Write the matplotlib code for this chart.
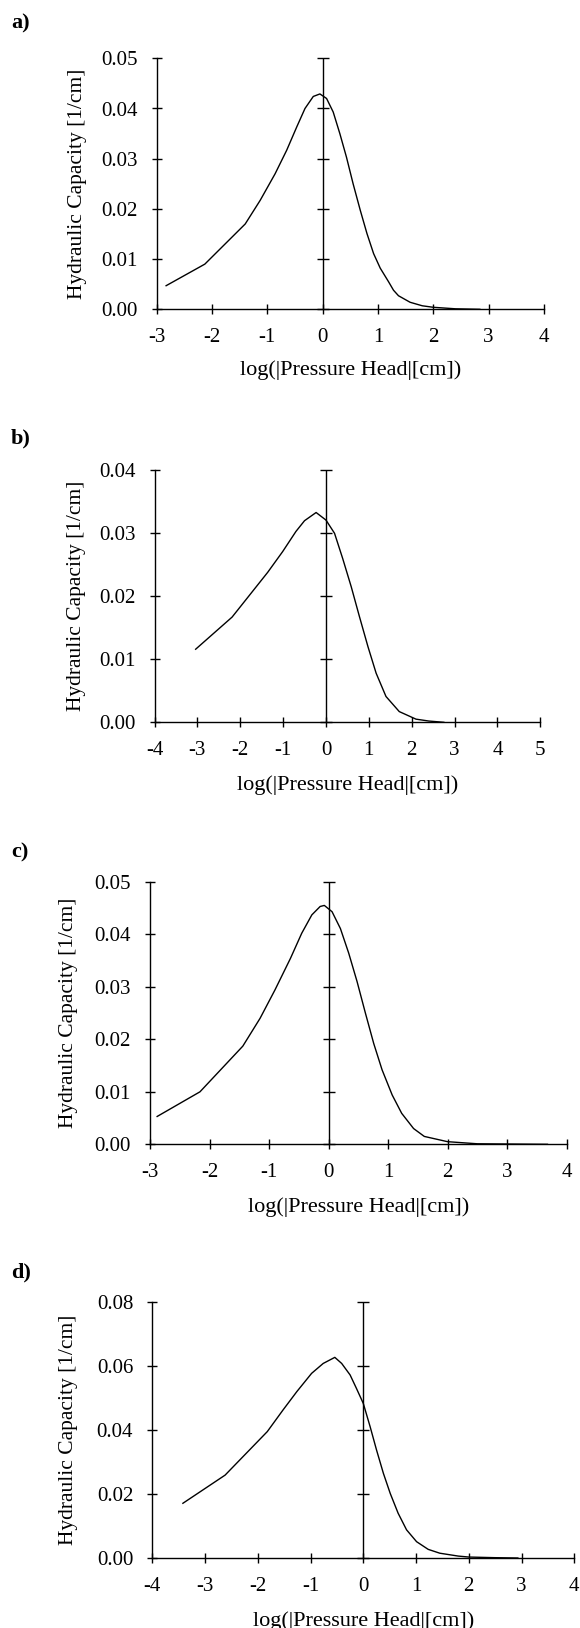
import numpy as np
import matplotlib
matplotlib.use("Agg")
import matplotlib.pyplot as plt

plt.rcParams['font.family'] = ['Liberation Serif', 'DejaVu Serif']

# curve points: log10(|h|) vs hydraulic capacity
a_x = [-2.83, -2.13, -1.40, -1.13, -0.86, -0.65, -0.47, -0.32, -0.17, -0.05, 0.07, 0.19,
       0.31, 0.43, 0.55, 0.68, 0.80, 0.92, 1.04, 1.19, 1.28, 1.37, 1.58, 1.80, 2.00, 2.40, 2.84]
a_y = [0.0047, 0.0090, 0.0170, 0.0217, 0.0270, 0.0317, 0.0363, 0.0400, 0.0424, 0.0429, 0.0420, 0.0393,
       0.0350, 0.0303, 0.0250, 0.0197, 0.0151, 0.0111, 0.0082, 0.0055, 0.0038, 0.0027, 0.0014,
       0.0007, 0.0004, 0.0001, 0.0]

b_x = [-3.04, -2.19, -1.36, -1.01, -0.70, -0.50, -0.23, 0.00, 0.20, 0.39, 0.59, 0.78,
       0.98, 1.17, 1.40, 1.71, 2.10, 2.40, 2.75]
b_y = [0.0116, 0.0167, 0.0238, 0.0271, 0.0303, 0.0320, 0.0333, 0.0321, 0.0300, 0.0260, 0.0215, 0.0168,
       0.0120, 0.0078, 0.0041, 0.0017, 0.0005, 0.0002, 0.0]

c_x = [-2.88, -2.16, -1.44, -1.15, -0.90, -0.64, -0.45, -0.28, -0.14, -0.07, 0.06, 0.20,
       0.34, 0.48, 0.62, 0.76, 0.90, 1.07, 1.23, 1.43, 1.61, 2.00, 2.50, 3.68]
c_y = [0.0053, 0.0100, 0.0187, 0.0240, 0.0294, 0.0354, 0.0402, 0.0437, 0.0453, 0.0455, 0.0443, 0.0411,
       0.0364, 0.0310, 0.0250, 0.0192, 0.0142, 0.0094, 0.0059, 0.0030, 0.0015, 0.0005, 0.0001, 0.0]

d_x = [-3.42, -2.62, -1.82, -1.52, -1.26, -0.98, -0.76, -0.54, -0.41, -0.25, -0.13, 0.00,
       0.13, 0.25, 0.38, 0.51, 0.66, 0.82, 1.01, 1.23, 1.45, 1.80, 2.00, 2.50, 2.93]
d_y = [0.0171, 0.0259, 0.0395, 0.0463, 0.0520, 0.0577, 0.0608, 0.0627, 0.0608, 0.0572, 0.0530, 0.0483,
       0.0410, 0.0338, 0.0265, 0.0202, 0.0140, 0.0088, 0.0051, 0.0027, 0.0015, 0.0006, 0.0003,
       0.0001, 0.0]

panel_labels = ['a)', 'b)', 'c)', 'd)']
xlims = [(-3, 4), (-4, 5), (-3, 4), (-4, 4)]
ymaxes = [0.05, 0.04, 0.05, 0.08]
ysteps = [0.01, 0.01, 0.01, 0.02]
xlabel = 'log(|Pressure Head|[cm])'
ylabel = 'Hydraulic Capacity [1/cm]'

W, H = 580, 1628
fig = plt.figure(figsize=(W / 100, H / 100), dpi=100)

# axes boxes in pixels: left, right, top, bottom
boxes = [(156.7, 544.0, 58.3, 309.3),
         (154.5, 540.3, 470.3, 722.3),
         (150.0, 566.5, 881.8, 1144.3),
         (152.3, 574.3, 1302.0, 1558.0)]
letter_y = [23, 438, 852, 1272]
ylab_x = [77.5, 77, 68.5, 69]
xlab_off = [61, 63, 63, 63]

curves = [(a_x, a_y), (b_x, b_y), (c_x, c_y), (d_x, d_y)]

for i in range(4):
    l, r, t, b = boxes[i]
    ax = fig.add_axes([l / W, 1 - b / H, (r - l) / W, (b - t) / H])
    x, y = curves[i]
    ax.plot(x, y, color='k', lw=1.0)

    x0, x1 = xlims[i]
    ax.set_xlim(x0, x1)
    ax.set_ylim(0, ymaxes[i])
    yt = np.arange(0, ymaxes[i] + ysteps[i] / 2, ysteps[i])
    ax.set_xticks(np.arange(x0, x1 + 1))
    ax.set_xticklabels(['%d' % v for v in np.arange(x0, x1 + 1)])
    ax.set_yticks(yt)
    ax.set_yticklabels(['%.2f' % v for v in yt])

    # vertical axis through zero with its own cross ticks
    ax.axvline(0, color='k', lw=1.0)
    ax.plot([0] * len(yt), yt, ls='none', marker='_', markersize=8.5,
            markeredgewidth=1.0, color='k', clip_on=False)

    for s in ['top', 'right']:
        ax.spines[s].set_visible(False)
    for s in ['left', 'bottom']:
        ax.spines[s].set_linewidth(1.0)
    ax.tick_params(direction='inout', length=7.5, width=1.0, labelsize=15, colors='k')
    ax.tick_params(axis='x', pad=10)
    ax.tick_params(axis='y', pad=10)

    fig.text(ylab_x[i] / W, 1 - (t + b) / 2 / H, ylabel, rotation=90,
             ha='center', va='center', fontsize=15.5)
    fig.text((l + r) / 2 / W, 1 - (b + xlab_off[i]) / H, xlabel, ha='center', va='center',
             fontsize=16)
    fig.text(11 / W, 1 - letter_y[i] / H, panel_labels[i], ha='left', va='center',
             fontsize=16, fontweight='bold')

fig.savefig('out.png', dpi=100)
